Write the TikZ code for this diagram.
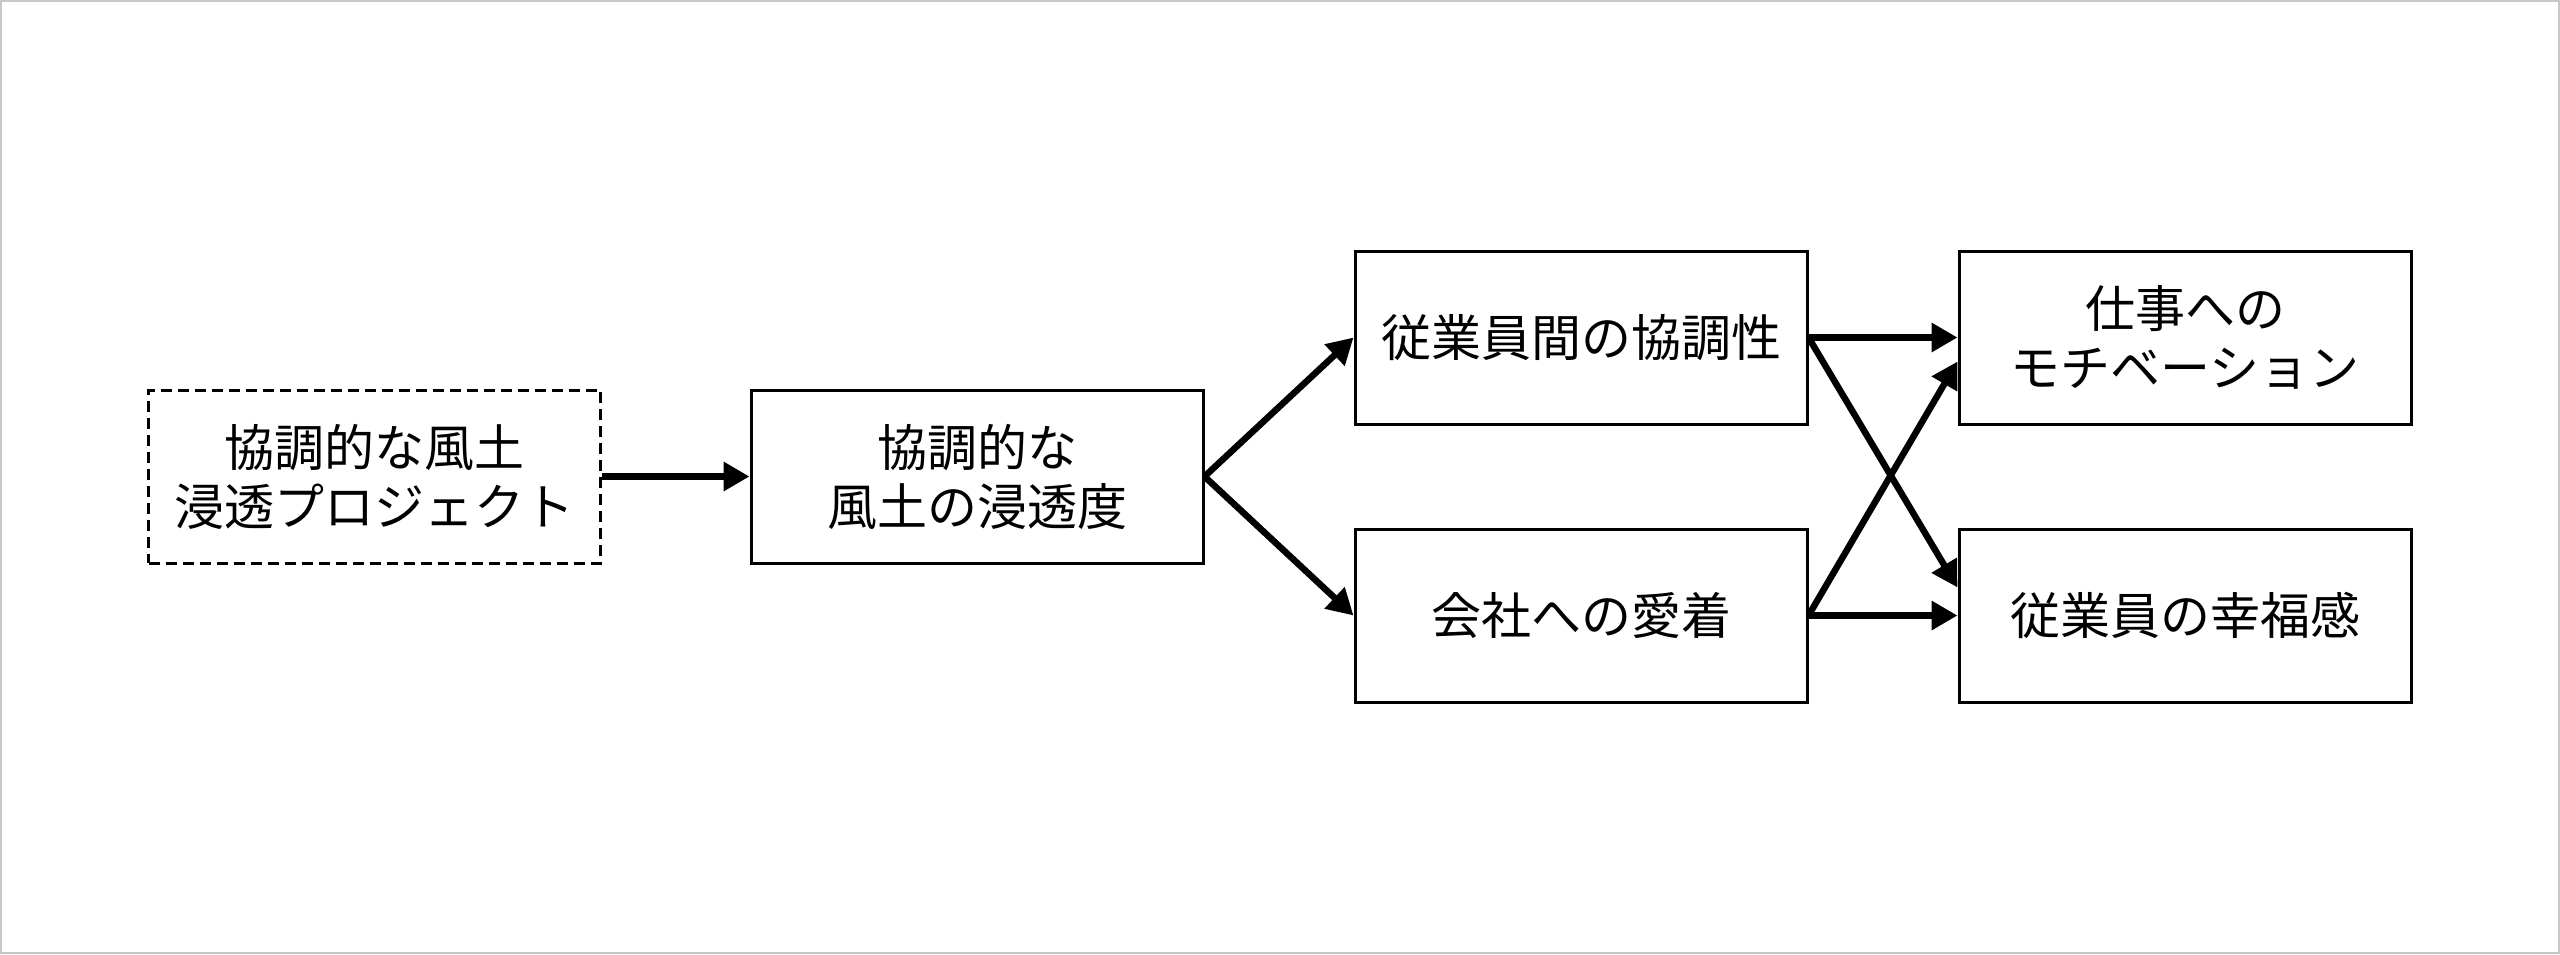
\documentclass[tikz,border=0pt]{standalone}
\usepackage{fontspec}
\setmainfont{Noto Sans CJK JP}
\usetikzlibrary{arrows.meta}
\definecolor{framegray}{RGB}{200,200,200}
\tikzset{
  box/.style={draw=black, line width=3pt, minimum width=452pt, minimum height=173pt,
    align=center, inner sep=0pt, font=\fontsize{50}{59}\selectfont, fill=white},
  dashbox/.style={box, dash pattern=on 11pt off 6pt},
  conn/.style={line width=6.5pt, -{Triangle[length=26pt,width=28pt]}}
}
\begin{document}
\begin{tikzpicture}[x=1pt,y=-1pt]
  \useasboundingbox (0,0) rectangle (2560,954);
  \draw[framegray, line width=2pt] (1,1) rectangle (2559,953);
  \node[dashbox] (proj) at (374.7,476.5) {協調的な風土\\浸透プロジェクト};
  \node[box] (deg) at (977,476.5) {協調的な\\風土の浸透度};
  \node[box] (coop) at (1581,337.5) {従業員間の協調性};
  \node[box] (attach) at (1581,615.5) {会社への愛着};
  \node[box] (motiv) at (2185,337.5) {仕事への\\モチベーション};
  \node[box] (happy) at (2185,615.5) {従業員の幸福感};
  \coordinate (motivin) at ([yshift=-24pt]motiv.west);
  \coordinate (happyin) at ([yshift=28pt]happy.west);
  \draw[conn] (proj.east) -- (deg.west);
  \draw[conn] (deg.east) -- (coop.west);
  \draw[conn] (deg.east) -- (attach.west);
  \draw[conn] (coop.east) -- (motiv.west);
  \draw[conn] (attach.east) -- (happy.west);
  \draw[conn] (coop.east) -- (happyin);
  \draw[conn] (attach.east) -- (motivin);
\end{tikzpicture}
\end{document}
